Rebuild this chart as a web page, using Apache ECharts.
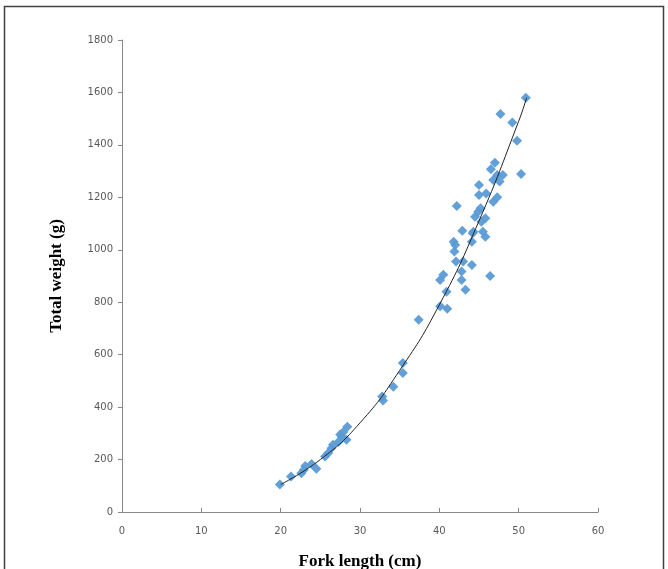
<!DOCTYPE html>
<html>
<head>
<meta charset="utf-8">
<script src="https://cdn.jsdelivr.net/npm/echarts@6/dist/echarts.min.js"></script>
<style>
  html, body { margin: 0; padding: 0; background: #fff; }
  #chart { width: 668px; height: 569px; }
</style>
</head>
<body>
<div id="chart"></div>
<script>
// fork length (cm), total weight (g)
const lengths = [
  19.9, 21.3, 22.6, 22.9, 23.1, 23.9, 24.5, 25.6, 26.0, 26.4, 26.6, 27.3, 27.5, 27.7, 27.9, 28.3, 28.4,
  32.8, 32.9, 34.2, 35.4, 35.4, 37.4, 40.1, 41.0, 40.1, 40.5, 40.9,
  42.2, 44.5, 42.9, 41.8, 42.0, 41.9, 44.2, 42.1, 43.0, 44.1, 42.8, 42.8, 43.3,
  50.9, 47.7, 49.2, 49.8, 47.0, 46.5, 47.3, 48.0, 50.3, 46.8, 45.0, 47.6, 45.0, 45.9,
  47.3, 46.8, 45.2, 44.9, 45.8, 45.3, 44.3, 45.5, 45.8, 44.1, 46.4
]
const weights = [
  105, 135, 148, 160, 175, 183, 165, 212, 225, 243, 256, 268, 296, 287, 305, 276, 325,
  440, 425, 478, 568, 530, 733, 785, 775, 885, 905, 840,
  1167, 1126, 1073, 1031, 1018, 993, 1063, 955, 955, 942, 917, 885, 848,
  1580, 1518, 1485, 1416, 1332, 1307, 1285, 1285, 1289, 1266, 1247, 1260, 1209, 1215,
  1200, 1183, 1158, 1145, 1120, 1107, 1069, 1069, 1050, 1031, 900
]
// trend line, points
const trendX = [20, 25, 30, 35, 40, 45, 50, 51]
const trendY = [105, 200, 340, 540, 790, 1110, 1490, 1580]

const xTicks = { min: 0, max: 60, interval: 10 }
const yTicks = { min: 0, max: 1800, interval: 200 }

const chart = echarts.init(document.getElementById('chart'))

const axisLabelStyle = {
  color: '#595959',
  fontSize: 10,
  fontFamily: 'DejaVu Sans',
  formatter: v => String(v)
}

chart.setOption({
  animation: false,
  grid: { left: 122, right: 70, top: 40, bottom: 57, outerBoundsMode: 'none' },
  graphic: [{
    type: 'rect',
    shape: { x: 4.5, y: 6.5, width: 659, height: 600 },
    style: { fill: 'none', stroke: '#404040', lineWidth: 1.5 }
  }],
  xAxis: {
    type: 'value',
    min: xTicks.min,
    max: xTicks.max,
    interval: xTicks.interval,
    name: 'Fork length (cm)',
    nameLocation: 'middle',
    nameGap: 41,
    nameTextStyle: { fontFamily: 'Liberation Serif', fontWeight: 'bold', fontSize: 17, color: '#000' },
    axisLine: { lineStyle: { color: '#888', width: 1 } },
    axisTick: { show: true, inside: true, length: 4, lineStyle: { color: '#888' } },
    axisLabel: Object.assign({}, axisLabelStyle, { margin: 14 }),
    splitLine: { show: false }
  },
  yAxis: {
    type: 'value',
    min: yTicks.min,
    max: yTicks.max,
    interval: yTicks.interval,
    name: 'Total weight (g)',
    nameLocation: 'middle',
    nameGap: 57,
    nameTextStyle: { fontFamily: 'Liberation Serif', fontWeight: 'bold', fontSize: 17, color: '#000' },
    axisLine: { show: true, lineStyle: { color: '#888', width: 1 } },
    axisTick: { show: true, length: 4, lineStyle: { color: '#888' } },
    axisLabel: Object.assign({}, axisLabelStyle, { margin: 9 }),
    splitLine: { show: false }
  },
  series: [{
    type: 'scatter',
    symbol: 'diamond',
    symbolSize: 10,
    itemStyle: { color: '#5b9bd5', opacity: 0.95 },
    data: lengths.map((l, i) => [l, weights[i]]),
    z: 2
  }, {
    type: 'line',
    smooth: true,
    showSymbol: false,
    lineStyle: { color: '#222', width: 1 },
    data: trendX.map((l, i) => [l, trendY[i]]),
    z: 3
  }]
})
</script>
</body>
</html>
